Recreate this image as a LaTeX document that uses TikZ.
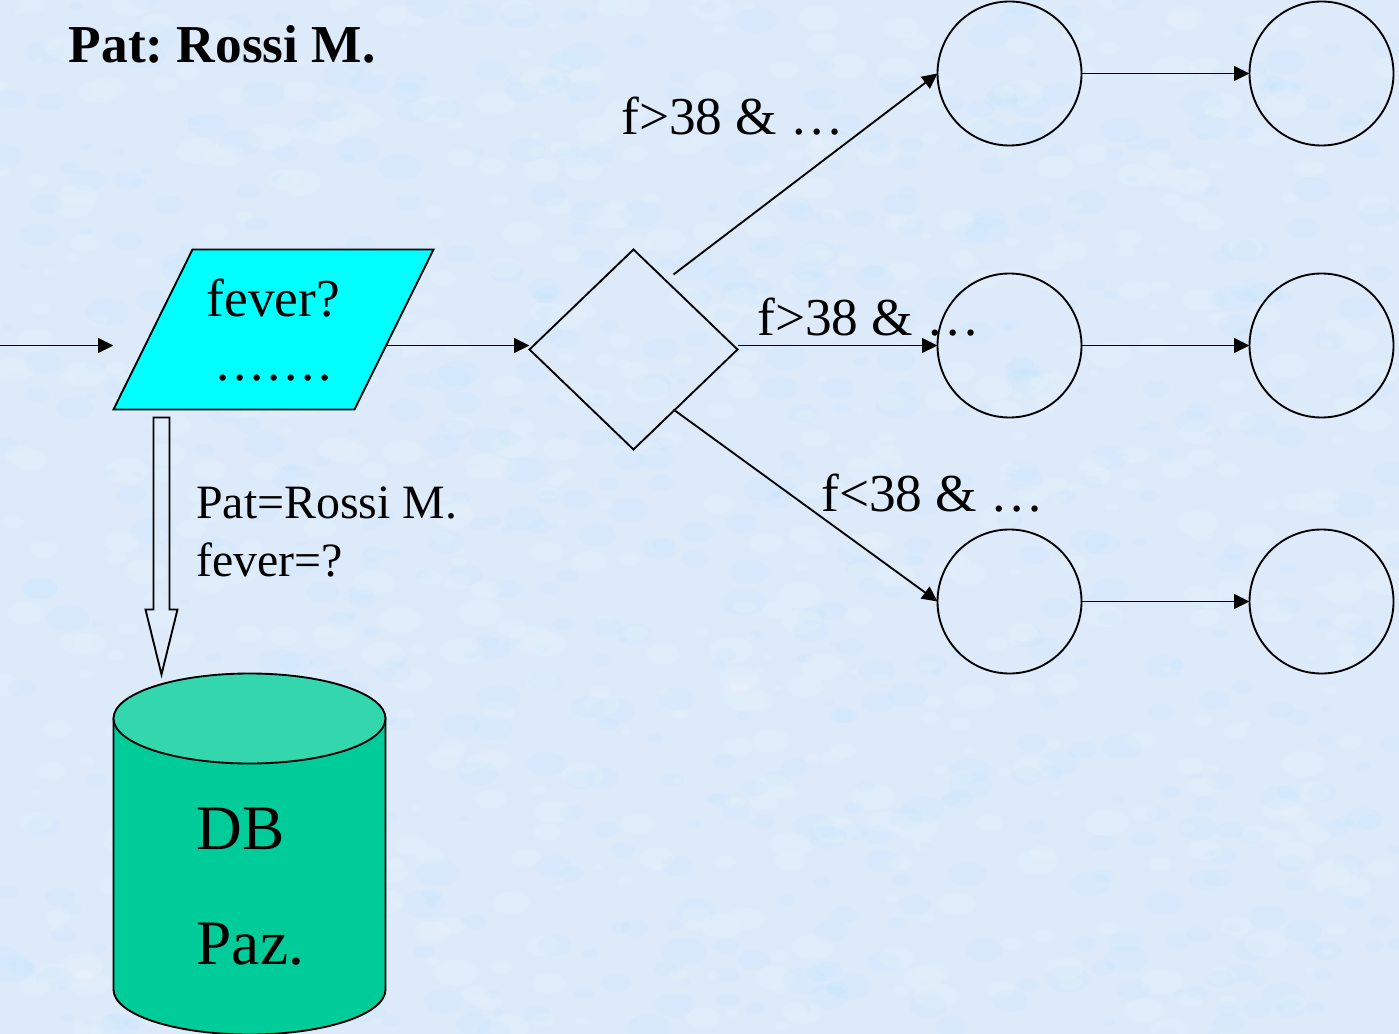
\documentclass[tikz,border=0pt]{standalone}
\usepackage{fontspec}
\setmainfont{Liberation Serif}
\usetikzlibrary{arrows.meta,shapes.geometric}
\definecolor{bgcolor}{RGB}{220, 234, 250}
\definecolor{feverfill}{RGB}{0, 255, 255}
\definecolor{dbbody}{RGB}{0, 204, 153}
\definecolor{dbtop}{RGB}{51, 214, 173}
\begin{document}
\begin{tikzpicture}[
        x=0.75pt,y=-0.75pt,
        conn/.style={line width=1.4pt,-{Triangle[length=11.5pt,width=11pt]}},
        outline/.style={line width=1.4pt,draw=black},
        state/.style={outline,circle,inner sep=0pt,outer sep=0pt,minimum size=108pt},
        txt/.style={anchor=base west,inner sep=0pt,font=\fontsize{40pt}{44pt}\selectfont},
        small/.style={anchor=base west,inner sep=0pt,font=\fontsize{35.9pt}{40pt}\selectfont},
        big/.style={anchor=base west,inner sep=0pt,font=\fontsize{47.5pt}{50pt}\selectfont}
    ]
    \useasboundingbox (0,0) rectangle (1399,1034);
    \fill[bgcolor] (0,0) rectangle (1399,1034);
    % background mottling
    \pgfmathsetseed{38}
    \begin{scope}
    \clip (0,0) rectangle (1399,1034);
    \foreach \i in {1,...,1400} {
        \pgfmathsetmacro{\bx}{random(0,1399)}
        \pgfmathsetmacro{\by}{random(0,1034)}
        \pgfmathsetmacro{\br}{random(5,22)}
        \pgfmathsetmacro{\bc}{random(0,1) ? "white" : "blue!35!cyan!30"}
        \fill[\bc,opacity=0.1] (\bx,\by) ellipse[x radius=\br,y radius=0.6*\br];
    }
    \end{scope}

    \node[txt,font=\fontsize{40pt}{44pt}\selectfont\bfseries] (title) at (68.5,62.5) {Pat:\ Rossi M.};

    \draw[outline,fill=feverfill] (192.5,249.5) -- (433.5,249.5) -- (354.5,409.5) -- (113.5,409.5) -- cycle;
    \node[txt] (fevertxt) at (206.5,316.5) {fever?};
    \node[txt] (feverdots) at (216,380) {\addfontfeature{LetterSpace=7}.......};

    \node[outline,diamond,aspect=1.04,inner sep=0pt,outer sep=0pt,minimum width=156pt,minimum height=150pt] (choice) at (633.5,349.5) {};

    \node[state] (a1) at (1009.5,73.5) {};
    \node[state] (a2) at (1321.5,73.5) {};
    \node[state] (b1) at (1009.5,345.5) {};
    \node[state] (b2) at (1321.5,345.5) {};
    \node[state] (c1) at (1009.5,601.5) {};
    \node[state] (c2) at (1321.5,601.5) {};

    \coordinate (start) at (0,345.5);
    \coordinate (feverin) at (113.5,345.5);
    \coordinate (feverout) at (385.5,345.5);
    \coordinate (choicein) at (529.5,345.5);
    \coordinate (choiceup) at (673.5,274.5);
    \coordinate (choicedown) at (673.5,409.5);
    \coordinate (choiceright) at (737.5,345.5);

    \draw[conn] (start) -- (feverin);
    \draw[conn] (feverout) -- (choicein);
    \draw[conn] (choiceup) -- (a1.west);
    \draw[conn] (choiceright) -- (b1.west);
    \draw[conn] (choicedown) -- (c1.west);
    \foreach \row in {a,b,c} {
        \draw[conn] (\row1.east) -- (\row2.west);
    }

    \node[txt] (labela) at (621,135) {f>38 \& …};
    \node[txt] (labelb) at (757,335) {f>38 \& …};
    \node[txt] (labelc) at (821,511) {f<38 \& …};

    % data base
    \draw[outline,fill=dbbody] (113.5,718.5) -- (113.5,989.5) arc[start angle=180,end angle=360,x radius=136,y radius=-45] -- (385.5,718.5) -- cycle;
    \draw[outline,fill=dbtop] (249.5,718.5) ellipse[x radius=136,y radius=45];
    \node[big] (dbname) at (196.5,849) {DB};
    \node[big] (dbpaz) at (196.5,964) {Paz.};

    % query arrow
    \draw[outline] (153.5,417.5) -- (169.5,417.5) -- (169.5,609.5) -- (177.5,609.5) -- (161.5,674.5) -- (145.5,609.5) -- (153.5,609.5) -- cycle;
    \node[small] (query) at (196,518) {Pat=Rossi M.};
    \node[small] (queryb) at (196,576.5) {fever=?};
\end{tikzpicture}
\end{document}
